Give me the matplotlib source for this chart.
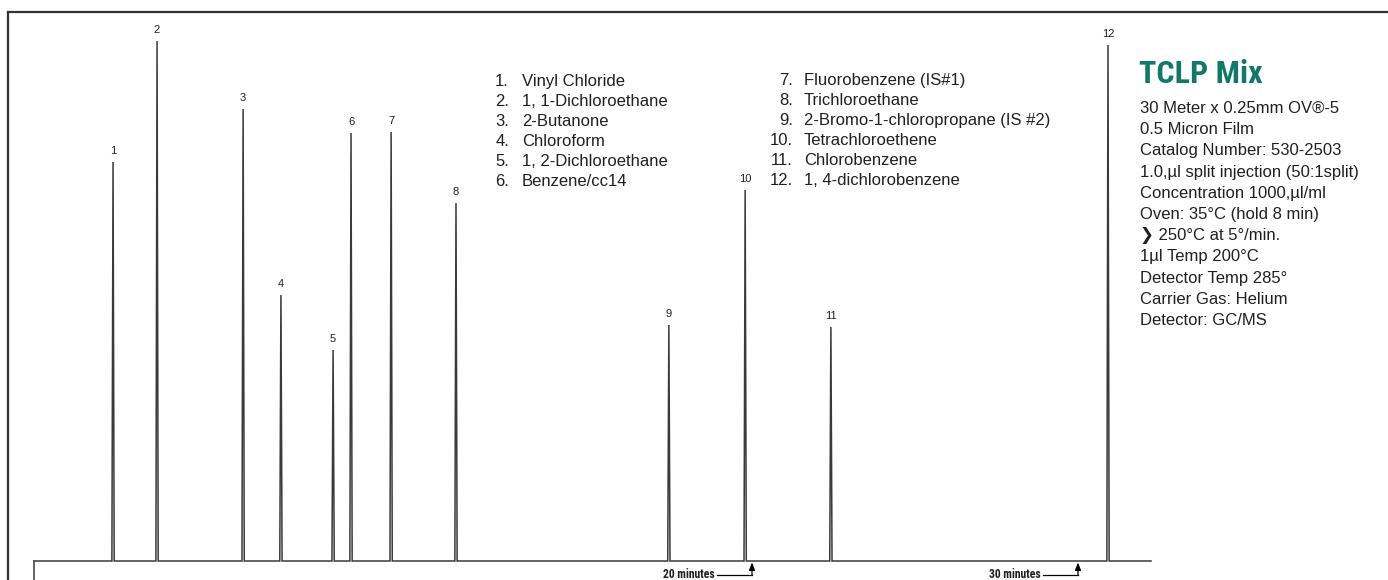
import matplotlib
matplotlib.use("Agg")
import matplotlib.pyplot as plt
from matplotlib.lines import Line2D
from matplotlib import font_manager as fm

# ---------------- data ----------------
peak_ids = [1, 2, 3, 4, 5, 6, 7, 8, 9, 10, 11, 12]
retention_min = [0.40, 1.75, 4.39, 5.55, 7.15, 7.70, 8.93, 10.92, 17.45, 19.79, 22.42, 30.92]
peak_height = [399, 520, 452, 266, 211, 428, 429, 358, 236, 371, 234, 516]
trace_start, trace_end = -2.02, 32.24
time_marks = [20, 30]
time_mark_labels = ["20 minutes", "30 minutes"]

compounds_col1 = ["Vinyl Chloride", "1, 1-Dichloroethane", "2-Butanone",
                  "Chloroform", "1, 2-Dichloroethane", "Benzene/cc14"]
compounds_col2 = ["Fluorobenzene (IS#1)", "Trichloroethane",
                  "2-Bromo-1-chloropropane (IS #2)", "Tetrachloroethene",
                  "Chlorobenzene", "1, 4-dichlorobenzene"]
title = "TCLP Mix"
info_lines = ["30 Meter x 0.25mm OV®-5", "0.5 Micron Film",
              "Catalog Number: 530-2503", "1.0,µl split injection (50:1split)",
              "Concentration 1000,µl/ml", "Oven: 35°C (hold 8 min)",
              "❯ 250°C at 5°/min.", "1µl Temp 200°C", "Detector Temp 285°",
              "Carrier Gas: Helium", "Detector: GC/MS"]

# ---------------- figure ----------------
W, H = 1388, 580
fig = plt.figure(figsize=(W / 100, H / 100), dpi=100)
ax = fig.add_axes([0, 0, 1, 1])
ax.set_axis_off()
PX_PER_MIN = 32.6
ZERO_PX = 100
BASE_PX = 561
ax.set_xlim(-ZERO_PX / PX_PER_MIN, (W - ZERO_PX) / PX_PER_MIN)
ax.set_ylim(-(H - BASE_PX), BASE_PX)

def fx(px):
    return px / W

def fy(py):
    return 1 - py / H

# pick a condensed bold family if one is installed
names = {f.name for f in fm.fontManager.ttflist}
cond = None
for n in ["Liberation Sans Narrow", "DejaVu Sans Condensed", "Roboto Condensed",
          "Open Sans Condensed"]:
    if n in names:
        cond = n
        break
if cond is None:
    for f in fm.fontManager.ttflist:
        if "condensed" in str(f.stretch).lower() or "narrow" in f.name.lower():
            cond = f.name
            break

SANS = ["Liberation Sans", "DejaVu Sans"]
NARROW = ([cond] if cond else []) + ["Liberation Sans", "DejaVu Sans"]
TXT = "#231f20"
TRACE = "#3a3a3a"

fig.canvas.draw()
renderer = fig.canvas.get_renderer()

def fit_width(t, target_px):
    wpx = t.get_window_extent(renderer).width
    if wpx > 0:
        t.set_fontsize(t.get_fontsize() * target_px / wpx)

# chromatogram trace
w = 0.035
xs, ys = [trace_start], [0]
for t, h in zip(retention_min, peak_height):
    xs += [t - w, t, t + w]
    ys += [0, h, 0]
xs.append(trace_end)
ys.append(0)
ax.plot(xs, ys, color=TRACE, lw=1.1, solid_joinstyle="miter")
# injection tick
ax.plot([trace_start, trace_start], [0, -(H - BASE_PX)], color=TRACE, lw=1.1)

# peak numbers
for pid, t, h in zip(peak_ids, retention_min, peak_height):
    ax.annotate(str(pid), (t, h), xytext=(0, 5.8), textcoords="offset points",
                ha="center", va="baseline", fontsize=8, family=SANS, color=TXT)

# time markers
for tm, lab in zip(time_marks, time_mark_labels):
    ax.annotate("", xy=(tm, -1.5), xytext=(tm, -14),
                arrowprops=dict(arrowstyle="-|>,head_length=0.45,head_width=0.18",
                                color="black", lw=0.9, shrinkA=0, shrinkB=0))
    ax.plot([tm - 1.07, tm], [-14, -14], color="black", lw=0.9)
    tt = ax.text(tm - 1.15, -16.5, lab, ha="right", va="baseline", fontsize=8.6,
                 family=NARROW, weight="bold", color=TXT)
    fit_width(tt, 52)

# frame lines
fig.add_artist(Line2D([fx(8), 1], [fy(12), fy(12)], color="#333333", lw=1.6))
fig.add_artist(Line2D([fx(8), fx(8)], [fy(12), 0], color="#333333", lw=1.6))

# compound list
for k, name in enumerate(compounds_col1):
    y = fy(86 + 20 * k)
    fig.text(fx(509), y, f"{k + 1}.", ha="right", va="baseline", fontsize=12,
             family=SANS, color=TXT)
    fig.text(fx(522), y, name, ha="left", va="baseline", fontsize=12,
             family=SANS, color=TXT)
for k, name in enumerate(compounds_col2):
    y = fy(85 + 20 * k)
    fig.text(fx(793), y, f"{k + 7}.", ha="right", va="baseline", fontsize=12,
             family=SANS, color=TXT)
    fig.text(fx(804), y, name, ha="left", va="baseline", fontsize=12,
             family=SANS, color=TXT)

# title and info
ttl = fig.text(fx(1139), fy(83), title, ha="left", va="baseline", fontsize=23,
               family=NARROW, weight="bold", color="#12786a")
fit_width(ttl, 124)
for k, line in enumerate(info_lines):
    fig.text(fx(1140), fy(113 + 21.2 * k), line, ha="left", va="baseline",
             fontsize=12, family=SANS, color=TXT)

fig.savefig("out.png", dpi=100)
